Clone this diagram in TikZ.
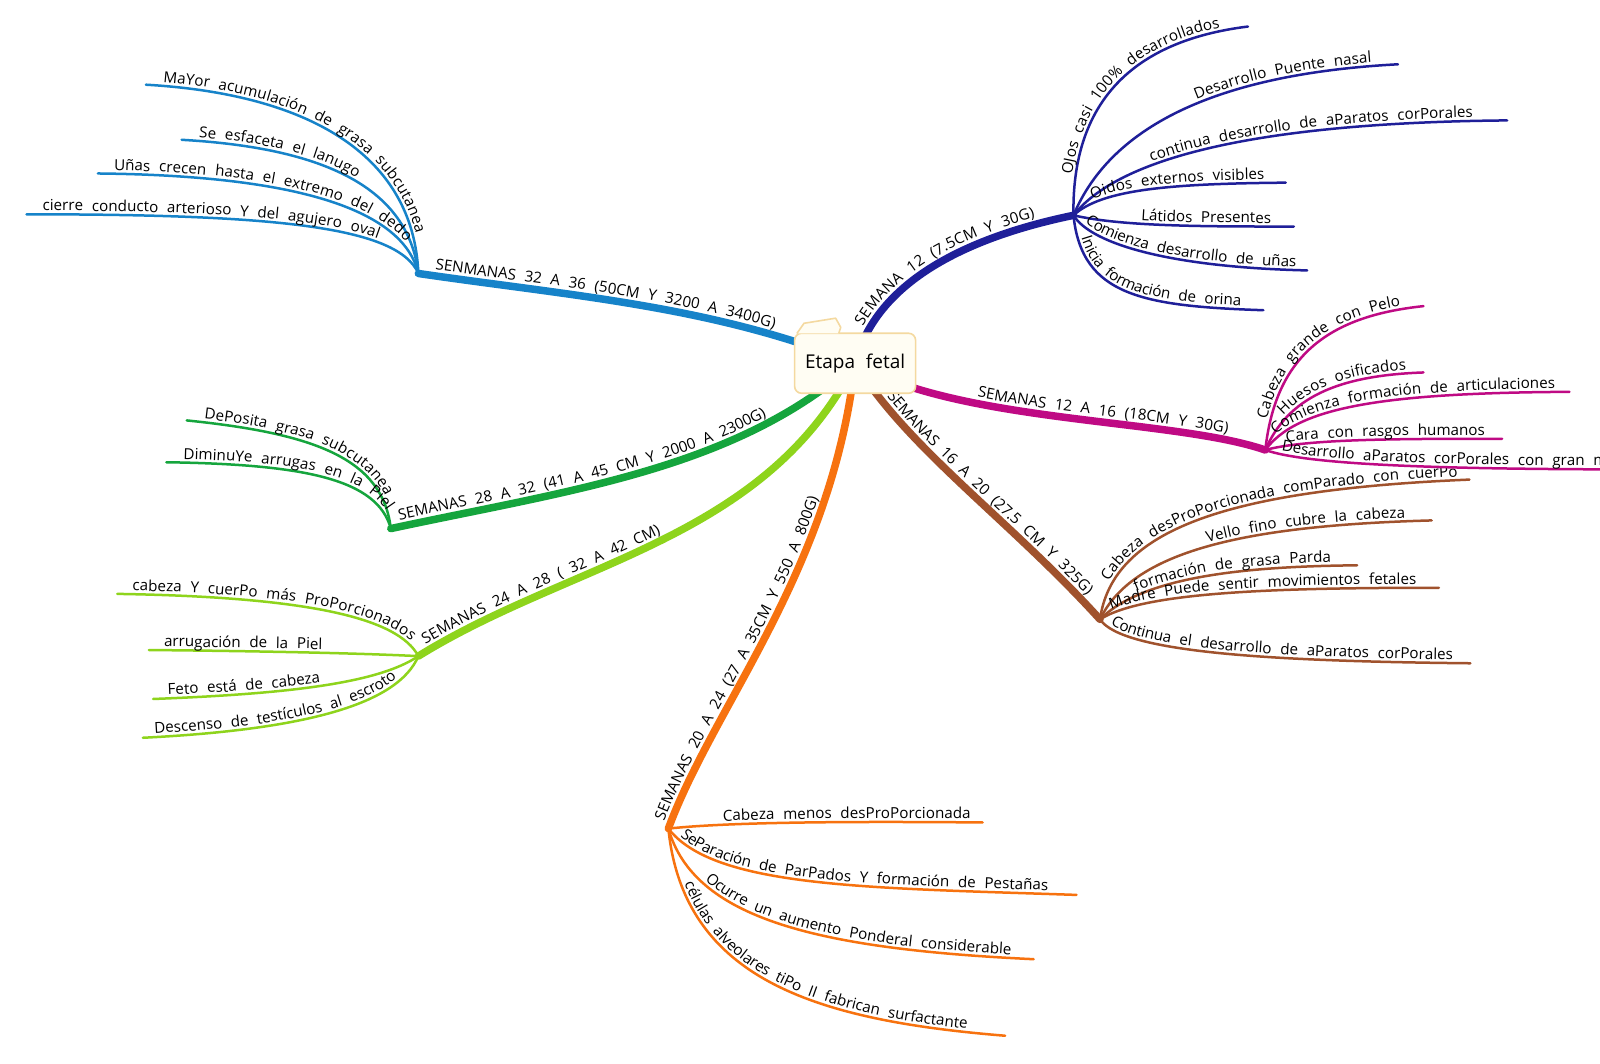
\documentclass[tikz,border=0pt]{standalone}
\usepackage{fontspec}
\setmainfont{Open Sans}[WordSpace=2.2]
\usetikzlibrary{decorations.text,calc}

\definecolor{azulclaro}{HTML}{1683C9}
\definecolor{azuloscuro}{HTML}{1F1F99}
\definecolor{rosa}{HTML}{BF0A84}
\definecolor{marron}{HTML}{A0522D}
\definecolor{naranja}{HTML}{F7720F}
\definecolor{verdeclaro}{HTML}{8ED41C}
\definecolor{verde}{HTML}{15A53D}
\definecolor{notaborde}{HTML}{F4D9A0}
\definecolor{notafondo}{HTML}{FFFDF3}

\tikzset{
  rama/.style={draw=#1, line width=7.5pt, line cap=round},
  hoja/.style={draw=#1, line width=2.5pt, line cap=round},
  texto/.style 2 args={postaction={decorate, decoration={text along path,
    text={#2}, text align={left indent=#1}, raise=3.5pt}}},
  rotulo/.style 2 args={postaction={decorate, decoration={text along path,
    text={#2}, text align={left indent=#1}, raise=6.5pt}}},
  nota/.style={draw=notaborde, fill=notafondo, line width=1.6pt, rounded corners=7pt,
    minimum width=121pt, minimum height=60pt, font=\fontsize{19}{21}\selectfont},
}

\begin{document}
\begin{tikzpicture}[x=1.0204pt,y=-1.0204pt]
\fontsize{15.2}{18}\selectfont
\fill[white] (0,0) rectangle (1568,1042);
\useasboundingbox (0,0) rectangle (1568,1042);

% centre and hubs
\coordinate (centro) at (838,356);
\coordinate (hubAzul) at (410,268);
\coordinate (hubVerde) at (383,518);
\coordinate (hubLima) at (410,643);
\coordinate (hubNaranja) at (655,812);
\coordinate (hubMarron) at (1078,607);
\coordinate (hubRosa) at (1240,441);
\coordinate (hubMarino) at (1052,211);

% main branches
\draw[rama=azulclaro, rotulo={16pt}{SENMANAS 32 A 36 (50CM Y 3200 A 3400G)}]
  (hubAzul) .. controls (560,290) and (700,300) .. (centro);
\draw[rama=verde, rotulo={10pt}{SEMANAS 28 A 32 (41 A 45 CM Y 2000 A 2300G)}]
  (hubVerde) .. controls (560,480) and (720,460) .. (centro);
\draw[rama=verdeclaro, rotulo={12pt}{SEMANAS 24 A 28 ( 32 A 42 CM)}]
  (hubLima) .. controls (560,550) and (750,530) .. (centro);
\draw[rama=naranja, rotulo={5pt}{SEMANAS 20 A 24 (27 A 35CM Y 550 A 800G)}]
  (hubNaranja) .. controls (700,690) and (815,560) .. (centro);
\draw[rama=marron, rotulo={46pt}{SEMANAS 16 A 20 (27.5 CM Y 325G)}]
  (centro) .. controls (890,440) and (990,510) .. (hubMarron);
\draw[rama=rosa, rotulo={128pt}{SEMANAS 12 A 16 (18CM Y 30G)}]
  (centro) .. controls (940,415) and (1150,410) .. (hubRosa);
\draw[rama=azuloscuro, rotulo={36pt}{SEMANA 12 (7.5CM Y 30G)}]
  (centro) .. controls (860,270) and (960,230) .. (hubMarino);

% semanas 32 a 36
\draw[hoja=azulclaro, texto={17pt}{MaYor acumulación de grasa subcutanea}]
  (143,83) .. controls (300,92) and (405,150) .. (hubAzul);
\draw[hoja=azulclaro, texto={17pt}{Se esfaceta el lanugo}]
  (178,137) .. controls (320,145) and (400,185) .. (hubAzul);
\draw[hoja=azulclaro, texto={16pt}{Uñas crecen hasta el extremo del dedo}]
  (96,170) .. controls (290,172) and (395,205) .. (hubAzul);
\draw[hoja=azulclaro, texto={16pt}{cierre conducto arterioso Y del agujero oval}]
  (26,210) .. controls (270,210) and (390,222) .. (hubAzul);

% semanas 28 a 32
\draw[hoja=verde, texto={17pt}{DePosita grasa subcutanea}]
  (183,412) .. controls (310,425) and (375,450) .. (hubVerde);
\draw[hoja=verde, texto={17pt}{DiminuYe arrugas en la Piel}]
  (163,453) .. controls (300,455) and (370,470) .. (hubVerde);

% semanas 24 a 28
\draw[hoja=verdeclaro, texto={15pt}{cabeza Y cuerPo más ProPorcionados}]
  (115,582) .. controls (300,585) and (390,605) .. (hubLima);
\draw[hoja=verdeclaro, texto={15pt}{arrugación de la Piel}]
  (146,637) .. controls (250,638) and (350,640) .. (hubLima);
\draw[hoja=verdeclaro, texto={15pt}{Feto está de cabeza}]
  (150,685) .. controls (280,680) and (370,670) .. (hubLima);
\draw[hoja=verdeclaro, texto={12pt}{Descenso de testículos al escroto}]
  (140,723) .. controls (300,715) and (390,690) .. (hubLima);

% semanas 20 a 24
\draw[hoja=naranja, texto={55pt}{Cabeza menos desProPorcionada}]
  (hubNaranja) .. controls (720,805) and (850,805) .. (963,806);
\draw[hoja=naranja, texto={14pt}{SeParación de ParPados Y formación de Pestañas}]
  (hubNaranja) .. controls (700,870) and (850,870) .. (1055,877);
\draw[hoja=naranja, texto={65pt}{Ocurre un aumento Ponderal considerable}]
  (hubNaranja) .. controls (680,900) and (800,930) .. (1013,940);
\draw[hoja=naranja, texto={58pt}{células alveolares tiPo II fabrican surfactante}]
  (hubNaranja) .. controls (670,960) and (800,1000) .. (985,1015);

% semanas 16 a 20
\draw[hoja=marron, texto={38pt}{Cabeza desProPorcionada comParado con cuerPo}]
  (hubMarron) .. controls (1090,520) and (1200,480) .. (1440,470);
\draw[hoja=marron, texto={135pt}{Vello fino cubre la cabeza}]
  (hubMarron) .. controls (1110,540) and (1220,515) .. (1403,510);
\draw[hoja=marron, texto={45pt}{formación de grasa Parda}]
  (hubMarron) .. controls (1120,565) and (1220,555) .. (1330,554);
\draw[hoja=marron, texto={14pt}{Madre Puede sentir movimientos fetales}]
  (hubMarron) .. controls (1120,580) and (1250,576) .. (1410,576);
\draw[hoja=marron, texto={12pt}{Continua el desarrollo de aParatos corPorales}]
  (hubMarron) .. controls (1100,640) and (1250,648) .. (1441,650);

% semanas 12 a 16
\draw[hoja=rosa, texto={30pt}{Cabeza grande con Pelo}]
  (hubRosa) .. controls (1250,350) and (1300,310) .. (1395,300);
\draw[hoja=rosa, texto={38pt}{Huesos osificados}]
  (hubRosa) .. controls (1262,390) and (1310,368) .. (1395,365);
\draw[hoja=rosa, texto={18pt}{Comienza formación de articulaciones}]
  (hubRosa) .. controls (1270,400) and (1350,385) .. (1538,384);
\draw[hoja=rosa, texto={22pt}{Cara con rasgos humanos}]
  (hubRosa) .. controls (1280,430) and (1370,430) .. (1472,430);
\draw[hoja=rosa, texto={16pt}{Desarrollo aParatos corPorales con gran m}]
  (hubRosa) .. controls (1280,455) and (1400,460) .. (1610,460);

% semana 12
\draw[hoja=azuloscuro, texto={40pt}{OJos casi 100{\%} desarrollados}]
  (hubMarino) .. controls (1050,100) and (1110,40) .. (1223,26);
\draw[hoja=azuloscuro, texto={172pt}{Desarrollo Puente nasal}]
  (hubMarino) .. controls (1090,120) and (1200,72) .. (1370,63);
\draw[hoja=azuloscuro, texto={95pt}{continua desarrollo de aParatos corPorales}]
  (hubMarino) .. controls (1100,150) and (1250,120) .. (1477,118);
\draw[hoja=azuloscuro, texto={24pt}{Oidos externos visibles}]
  (hubMarino) .. controls (1080,185) and (1150,180) .. (1260,179);
\draw[hoja=azuloscuro, texto={68pt}{Látidos Presentes}]
  (hubMarino) .. controls (1100,222) and (1180,222) .. (1268,222);
\draw[hoja=azuloscuro, texto={14pt}{Comienza desarrollo de uñas}]
  (hubMarino) .. controls (1070,240) and (1150,262) .. (1281,265);
\draw[hoja=azuloscuro, texto={24pt}{Inicia formación de orina}]
  (hubMarino) .. controls (1060,290) and (1120,300) .. (1238,304);

% sticky note
\node[nota] (etapa) at (centro) {Etapa fetal};
\draw[notaborde, fill=notafondo, line width=1.6pt, line join=round]
  ($(etapa.north west)+(3,1)$) -- ($(etapa.north west)+(10,-9)$)
  -- ($(etapa.north west)+(41,-14)$) -- ($(etapa.north west)+(46,-5)$)
  -- ($(etapa.north west)+(44,1)$);
\end{tikzpicture}
\end{document}
